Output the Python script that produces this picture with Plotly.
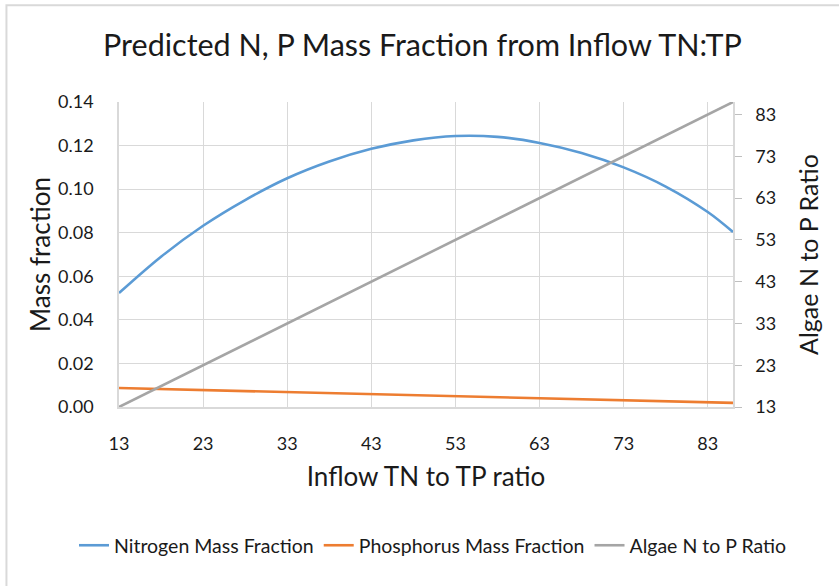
import plotly.graph_objects as go

# Data
inflow_ratio = [13, 18, 23, 28, 33, 38, 43, 48, 53, 58, 63, 68, 73, 78, 83, 86]
nitrogen_fraction = [0.0523, 0.0690, 0.0832, 0.0950, 0.1050, 0.1127, 0.1185, 0.1224,
                     0.1244, 0.1240, 0.1212, 0.1166, 0.1100, 0.1012, 0.0895, 0.0803]
phos_ratio = [13, 23, 33, 43, 53, 63, 73, 83, 86]
phosphorus_fraction = [0.0087, 0.0078, 0.0069, 0.0060, 0.0050, 0.0041, 0.0031, 0.0022, 0.0019]
algae_ratio_x = [13, 86]
algae_np_ratio = [13, 86]

FONT = "Lato"
TXT = "#1a1a1a"
GRID = "#D9D9D9"

fig = go.Figure()
fig.add_trace(go.Scatter(x=inflow_ratio, y=nitrogen_fraction, mode="lines",
                         name="Nitrogen Mass Fraction",
                         line=dict(color="#5B9BD5", width=2.6, shape="spline")))
fig.add_trace(go.Scatter(x=phos_ratio, y=phosphorus_fraction, mode="lines",
                         name="Phosphorus Mass Fraction",
                         line=dict(color="#ED7D31", width=2.6)))
fig.add_trace(go.Scatter(x=algae_ratio_x, y=algae_np_ratio, mode="lines",
                         name="Algae N to P Ratio", yaxis="y2",
                         line=dict(color="#A5A5A5", width=2.6)))

L, T = 119, 102.3
R = 839 - 732.7
B = 586 - 406.7
PW = 839 - L - R
PH = 586 - T - B

def px_x(p):
    return (p - L) / PW

def px_y(p):
    return (586 - B - p) / PH

fig.update_layout(
    width=839, height=586,
    margin=dict(l=L, r=R, t=T, b=B, autoexpand=False),
    paper_bgcolor="white", plot_bgcolor="white",
    font=dict(family=FONT, color=TXT, size=18),
    title=dict(text="Predicted N, P Mass Fraction from Inflow TN:TP",
               font=dict(size=30.5, family=FONT, color=TXT),
               x=px_x(428), xanchor="center", y=1 - 45 / 586, yanchor="middle"),
    xaxis=dict(range=[13, 86], tick0=13, dtick=10, showgrid=True, gridcolor=GRID,
               gridwidth=1.3, zeroline=False, showline=True, linecolor=GRID, linewidth=1.5,
               ticks="", ticklabelstandoff=20, tickfont=dict(size=18),
               title=dict(text="Inflow TN to TP ratio", font=dict(size=26), standoff=14)),
    yaxis=dict(range=[0, 0.14], tick0=0, dtick=0.02, tickformat=".2f", showgrid=True,
               gridcolor=GRID, gridwidth=1.3, zeroline=False, showline=True,
               linecolor=GRID, linewidth=1.5, ticks="", ticklabelstandoff=20,
               tickfont=dict(size=18),
               title=dict(text="Mass fraction", font=dict(size=26), standoff=0)),
    yaxis2=dict(range=[13, 86], tick0=13, dtick=10, overlaying="y", side="right",
                showgrid=False, zeroline=False, showline=True, linecolor=GRID,
                linewidth=1.5, ticks="outside", ticklen=7, tickcolor="#BFBFBF",
                ticklabelstandoff=10, tickfont=dict(size=18),
                title=dict(text="Algae N to P Ratio", font=dict(size=25), standoff=25)),
    legend=dict(orientation="h", x=px_x(74), xanchor="left", y=px_y(545),
                yanchor="middle", font=dict(size=19.5), bgcolor="rgba(0,0,0,0)",
                itemwidth=30, tracegroupgap=0),
    showlegend=True,
    shapes=[dict(type="rect", xref="paper", yref="paper",
                 x0=px_x(6.5), x1=px_x(850), y0=px_y(600), y1=px_y(5.7),
                 line=dict(color=GRID, width=2), fillcolor="rgba(0,0,0,0)", layer="below")],
)

fig.write_html("out.html")
